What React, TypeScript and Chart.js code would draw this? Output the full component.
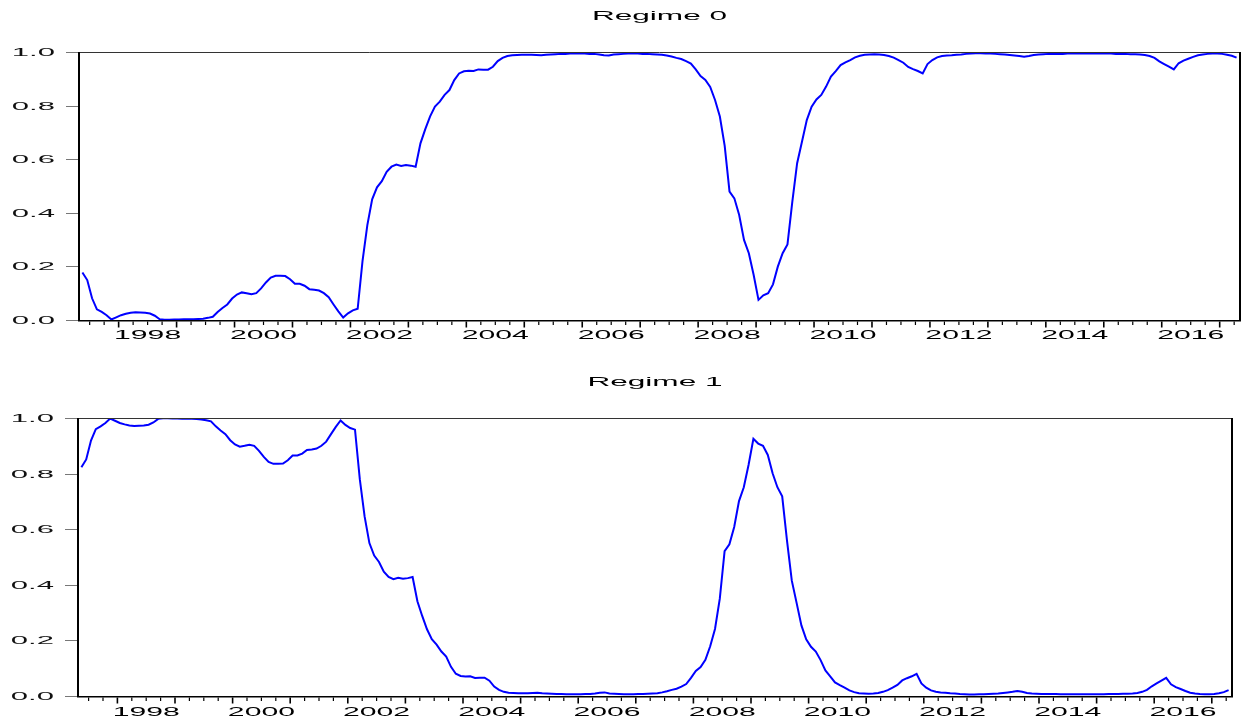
import React, { useEffect, useRef } from "react";
import { Chart, registerables } from "chart.js";

Chart.register(...registerables);

// Monthly observations, 1997-05 .. 2017-04
const START_YEAR = 1997;
const START_MONTH = 5;
const N_MONTHS = 240;
const MONTHS: string[] = Array.from({ length: N_MONTHS }, (_, i) => {
  const m = START_MONTH - 1 + i;
  return `${START_YEAR + Math.floor(m / 12)}-${String((m % 12) + 1).padStart(2, "0")}`;
});

const REGIME0 = [
  0.177, 0.149, 0.081, 0.040, 0.030, 0.018, 0.002, 0.010, 0.018, 0.023,
  0.027, 0.029, 0.028, 0.027, 0.024, 0.016, 0.003, 0.001, 0.001, 0.002,
  0.002, 0.003, 0.003, 0.003, 0.004, 0.005, 0.008, 0.012, 0.030, 0.045,
  0.058, 0.080, 0.095, 0.103, 0.100, 0.096, 0.100, 0.118, 0.140, 0.158,
  0.165, 0.165, 0.164, 0.152, 0.135, 0.135, 0.128, 0.115, 0.113, 0.110,
  0.100, 0.085, 0.058, 0.032, 0.009, 0.025, 0.036, 0.042, 0.220, 0.354,
  0.450, 0.495, 0.518, 0.553, 0.572, 0.580, 0.575, 0.578, 0.576, 0.572,
  0.659, 0.712, 0.760, 0.796, 0.815, 0.840, 0.858, 0.895, 0.920, 0.928,
  0.930, 0.929, 0.935, 0.934, 0.934, 0.945, 0.966, 0.978, 0.985, 0.988,
  0.989, 0.990, 0.990, 0.990, 0.989, 0.988, 0.990, 0.991, 0.992, 0.993,
  0.993, 0.994, 0.994, 0.994, 0.994, 0.993, 0.993, 0.991, 0.988, 0.987,
  0.991, 0.992, 0.993, 0.994, 0.994, 0.994, 0.993, 0.993, 0.992, 0.991,
  0.990, 0.987, 0.983, 0.978, 0.974, 0.966, 0.957, 0.935, 0.910, 0.896,
  0.870, 0.821, 0.759, 0.650, 0.479, 0.454, 0.392, 0.299, 0.249, 0.168,
  0.075, 0.092, 0.100, 0.133, 0.199, 0.249, 0.282, 0.441, 0.585, 0.665,
  0.746, 0.796, 0.823, 0.840, 0.871, 0.908, 0.929, 0.951, 0.961, 0.970,
  0.980, 0.986, 0.990, 0.991, 0.992, 0.991, 0.989, 0.985, 0.979, 0.970,
  0.960, 0.944, 0.936, 0.929, 0.920, 0.955, 0.970, 0.980, 0.985, 0.987,
  0.988, 0.990, 0.991, 0.993, 0.994, 0.995, 0.995, 0.994, 0.994, 0.993,
  0.992, 0.991, 0.989, 0.987, 0.985, 0.982, 0.985, 0.989, 0.991, 0.992,
  0.993, 0.993, 0.993, 0.993, 0.994, 0.994, 0.994, 0.994, 0.994, 0.994,
  0.994, 0.994, 0.994, 0.994, 0.993, 0.993, 0.993, 0.992, 0.992, 0.991,
  0.989, 0.985, 0.978, 0.965, 0.955, 0.945, 0.935, 0.958, 0.968, 0.975,
  0.982, 0.988, 0.991, 0.993, 0.994, 0.994, 0.993, 0.990, 0.986, 0.979,
];

const REGIME1 = [
  0.823, 0.851, 0.919, 0.960, 0.970, 0.982, 0.998, 0.990, 0.982, 0.977,
  0.973, 0.971, 0.972, 0.973, 0.976, 0.984, 0.997, 0.999, 0.999, 0.998,
  0.998, 0.997, 0.997, 0.997, 0.996, 0.995, 0.992, 0.988, 0.970, 0.955,
  0.942, 0.920, 0.905, 0.897, 0.900, 0.904, 0.900, 0.882, 0.860, 0.842,
  0.835, 0.835, 0.836, 0.848, 0.865, 0.865, 0.872, 0.885, 0.887, 0.890,
  0.900, 0.915, 0.942, 0.968, 0.991, 0.975, 0.964, 0.958, 0.780, 0.646,
  0.550, 0.505, 0.482, 0.447, 0.428, 0.420, 0.425, 0.422, 0.424, 0.428,
  0.341, 0.288, 0.240, 0.204, 0.185, 0.160, 0.142, 0.105, 0.080, 0.072,
  0.070, 0.071, 0.065, 0.066, 0.066, 0.055, 0.034, 0.022, 0.015, 0.012,
  0.011, 0.010, 0.010, 0.010, 0.011, 0.012, 0.010, 0.009, 0.008, 0.007,
  0.007, 0.006, 0.006, 0.006, 0.006, 0.007, 0.007, 0.009, 0.012, 0.013,
  0.009, 0.008, 0.007, 0.006, 0.006, 0.006, 0.007, 0.007, 0.008, 0.009,
  0.010, 0.013, 0.017, 0.022, 0.026, 0.034, 0.043, 0.065, 0.090, 0.104,
  0.130, 0.179, 0.241, 0.350, 0.521, 0.546, 0.608, 0.701, 0.751, 0.832,
  0.925, 0.908, 0.900, 0.867, 0.801, 0.751, 0.718, 0.559, 0.415, 0.335,
  0.254, 0.204, 0.177, 0.160, 0.129, 0.092, 0.071, 0.049, 0.039, 0.030,
  0.020, 0.014, 0.010, 0.009, 0.008, 0.009, 0.011, 0.015, 0.021, 0.030,
  0.040, 0.056, 0.064, 0.071, 0.080, 0.045, 0.030, 0.020, 0.015, 0.013,
  0.012, 0.010, 0.009, 0.007, 0.006, 0.005, 0.005, 0.006, 0.006, 0.007,
  0.008, 0.009, 0.011, 0.013, 0.015, 0.018, 0.015, 0.011, 0.009, 0.008,
  0.007, 0.007, 0.007, 0.007, 0.006, 0.006, 0.006, 0.006, 0.006, 0.006,
  0.006, 0.006, 0.006, 0.006, 0.007, 0.007, 0.007, 0.008, 0.008, 0.009,
  0.011, 0.015, 0.022, 0.035, 0.045, 0.055, 0.065, 0.042, 0.032, 0.025,
  0.018, 0.012, 0.009, 0.007, 0.006, 0.006, 0.007, 0.010, 0.014, 0.021,
];

const Y_TICKS = [0, 0.2, 0.4, 0.6, 0.8, 1.0];
const Y_TICK_LABELS = ["0.0", "0.2", "0.4", "0.6", "0.8", "1.0"];
const YEAR_LABELS = ["1998", "2000", "2002", "2004", "2006", "2008", "2010", "2012", "2014", "2016"];

const FONT = '"Liberation Sans", Arial, sans-serif';

function stretchText(
  ctx: CanvasRenderingContext2D,
  text: string,
  x: number,
  y: number,
  sx: number,
  align: CanvasTextAlign
) {
  ctx.save();
  ctx.translate(x, y);
  ctx.scale(sx, 1);
  ctx.textAlign = align;
  ctx.textBaseline = "alphabetic";
  ctx.fillText(text, 0, 0);
  ctx.restore();
}

function makeDecor(title: string, yearBaseline: number) {
  return {
    id: "decor",
    afterDraw(chart: any) {
      const { ctx, chartArea: a, scales } = chart;
      const xs = scales.x;
      const ys = scales.y;
      ctx.save();
      // frame
      ctx.lineCap = "butt";
      ctx.strokeStyle = "#333";
      ctx.lineWidth = 1;
      ctx.beginPath();
      ctx.moveTo(a.left, a.top + 0.5);
      ctx.lineTo(a.right, a.top + 0.5);
      ctx.stroke();
      ctx.strokeStyle = "#000";
      ctx.lineWidth = 2;
      ctx.beginPath();
      ctx.moveTo(a.left - 1, a.top);
      ctx.lineTo(a.left - 1, a.bottom + 1);
      ctx.moveTo(a.right + 1, a.top);
      ctx.lineTo(a.right + 1, a.bottom + 1);
      ctx.stroke();
      ctx.lineWidth = 1.5;
      ctx.beginPath();
      ctx.moveTo(a.left - 2, a.bottom + 0.75);
      ctx.lineTo(a.right + 2, a.bottom + 0.75);
      ctx.stroke();

      // y ticks + labels
      ctx.fillStyle = "#111";
      ctx.font = `11.5px ${FONT}`;
      Y_TICKS.forEach((v, k) => {
        const py = Math.round(ys.getPixelForValue(v)) + 0.5;
        ctx.strokeStyle = "#777";
        ctx.lineWidth = 1;
        ctx.beginPath();
        ctx.moveTo(a.left - 14, py);
        ctx.lineTo(a.left - 2, py);
        ctx.stroke();
        stretchText(ctx, Y_TICK_LABELS[k], a.left - 25, py + 3, 2.7, "right");
      });

      // x ticks (quarters; years longer)
      const band = xs.getPixelForValue(1) - xs.getPixelForValue(0);
      ctx.strokeStyle = "#000";
      MONTHS.forEach((lab, i) => {
        const m = parseInt(lab.slice(5), 10);
        if ((m - 1) % 3 !== 0) return;
        const px = xs.getPixelForValue(i) - band / 2;
        const major = m === 1;
        ctx.lineWidth = major ? 1.6 : 1.2;
        ctx.beginPath();
        ctx.moveTo(px, a.bottom + 1.5);
        ctx.lineTo(px, a.bottom + 1.5 + (major ? 6 : 3.5));
        ctx.stroke();
      });

      // year labels, centred within each labelled year
      ctx.fillStyle = "#000";
      ctx.font = `13px ${FONT}`;
      YEAR_LABELS.forEach((y) => {
        const idx = MONTHS.indexOf(`${y}-07`);
        if (idx < 0) return;
        const px = xs.getPixelForValue(idx) - band / 2;
        stretchText(ctx, y, px, a.bottom + yearBaseline, 2.32, "center");
      });

      // title
      ctx.font = `13px ${FONT}`;
      stretchText(ctx, title, (a.left + a.right) / 2, a.top - 32, 2.43, "center");
      ctx.restore();
    },
  };
}

function makeChart(
  canvas: HTMLCanvasElement,
  values: number[],
  title: string,
  padding: { left: number; right: number; top: number; bottom: number },
  yearBaseline: number
) {
  return new Chart(canvas, {
    type: "line",
    data: {
      labels: MONTHS,
      datasets: [
        {
          data: values,
          borderColor: "#0000ff",
          borderWidth: 2,
          pointRadius: 0,
          tension: 0,
          fill: false,
        },
      ],
    },
    options: {
      animation: false,
      responsive: false,
      devicePixelRatio: 1,
      layout: { padding },
      scales: {
        x: { type: "category", display: false, offset: true },
        y: { display: false, min: 0, max: 1 },
      },
      plugins: {
        legend: { display: false },
        tooltip: { enabled: false },
        title: { display: false },
      },
    },
    plugins: [makeDecor(title, yearBaseline)],
  } as any);
}

export default function App() {
  const topRef = useRef<HTMLCanvasElement>(null);
  const botRef = useRef<HTMLCanvasElement>(null);

  useEffect(() => {
    const c1 = makeChart(topRef.current!, REGIME0, "Regime 0", { left: 80, right: 8, top: 52, bottom: 35 }, 19);
    const c2 = makeChart(botRef.current!, REGIME1, "Regime 1", { left: 79, right: 16, top: 63, bottom: 28 }, 20);
    return () => {
      c1.destroy();
      c2.destroy();
    };
  }, []);

  return (
    <div style={{ position: "absolute", left: 0, top: 0, width: 1247, height: 724, background: "#fff", overflow: "hidden" }}>
      <canvas ref={topRef} width={1247} height={355} style={{ position: "absolute", left: 0, top: 0 }} />
      <canvas ref={botRef} width={1247} height={369} style={{ position: "absolute", left: 0, top: 355 }} />
    </div>
  );
}
